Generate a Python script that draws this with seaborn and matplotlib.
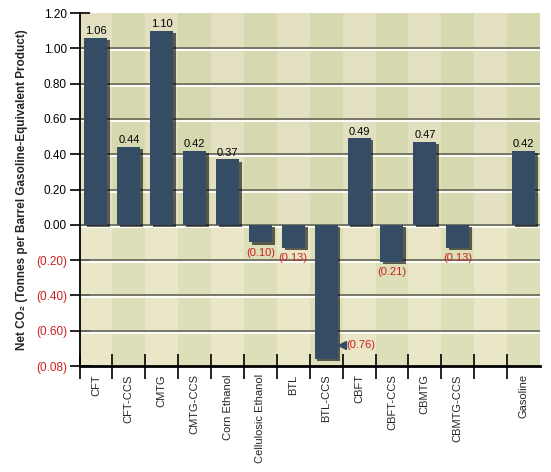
import numpy as np
import pandas as pd
import matplotlib
matplotlib.use("Agg")
import matplotlib.pyplot as plt
import matplotlib.patheffects as pe
import seaborn as sns

categories = ["CFT", "CFT-CCS", "CMTG", "CMTG-CCS", "Corn Ethanol", "Cellulosic Ethanol",
              "BTL", "BTL-CCS", "CBFT", "CBFT-CCS", "CBMTG", "CBMTG-CCS", " ", "Gasoline"]
values = [1.06, 0.44, 1.10, 0.42, 0.37, -0.10, -0.13, -0.76, 0.49, -0.21, 0.47, -0.13, np.nan, 0.42]
value_labels = ["1.06", "0.44", "1.10", "0.42", "0.37", "(0.10)", "(0.13)", "(0.76)",
                "0.49", "(0.21)", "0.47", "(0.13)", "", "0.42"]
ytick_values = [1.20, 1.00, 0.80, 0.60, 0.40, 0.20, 0.00, -0.20, -0.40, -0.60, -0.80]
ytick_labels = ["1.20", "1.00", "0.80", "0.60", "0.40", "0.20", "0.00",
                "(0.20)", "(0.40)", "(0.60)", "(0.08)"]
ylabel = "Net CO\u2082 (Tonnes per Barrel Gasoline-Equivalent Product)"

sns.set_style("white")
plt.rcParams["font.family"] = ["Liberation Sans", "DejaVu Sans"]

BAR = "#344c64"
RED = "#cc2020"
LIGHT = "#e9e7c8"
DARK = "#dcdfb7"

df = pd.DataFrame({"cat": categories, "val": values})

fig = plt.figure(figsize=(5.51, 4.72), dpi=100)
ax = fig.add_axes([79.5 / 551, 1 - 366 / 472, (540 - 79.5) / 551, (366 - 13) / 472])

sns.barplot(data=df, x="cat", y="val", order=categories, color=BAR, saturation=1,
            width=0.7, ax=ax, zorder=3, errorbar=None)
for p in ax.containers[0]:
    p.set_edgecolor("none")
    p.set_path_effects([pe.SimplePatchShadow(offset=(2, -1.5), shadow_rgbFace="black", alpha=0.6),
                        pe.Normal()])

n = len(categories)
for i in range(n):
    ax.axvspan(i - 0.5, i + 0.5, facecolor=LIGHT if i % 2 == 0 else DARK, zorder=0, lw=0)
ax.axhspan(0, 1.2, facecolor="#7a7a50", alpha=0.06, zorder=0.5, lw=0)

ax.set_xlim(-0.5, n - 0.5)
ax.set_ylim(-0.8, 1.2)

# gridlines
for yv in ytick_values[1:-1]:
    ax.axhline(yv, color="#6f6f60", lw=1.3, zorder=1,
               path_effects=[pe.SimpleLineShadow(offset=(0, -1.5), shadow_color="white", alpha=1.0),
                             pe.Normal()])

# value labels
for i, (v, lab) in enumerate(zip(values, value_labels)):
    if np.isnan(v):
        continue
    if v >= 0:
        ax.text(i, v + 0.01, lab, ha="center", va="bottom", fontsize=8, color="black", zorder=5)
    elif v < -0.5:
        ax.plot([i + 0.47], [v + 0.08], marker="<", color=BAR, markersize=6, zorder=5)
        ax.text(i + 0.6, v + 0.08, lab, ha="left", va="center", fontsize=8, color=RED, zorder=5)
    else:
        ax.text(i, v - 0.03, lab, ha="center", va="top", fontsize=8, color=RED, zorder=5)

# y axis ticks
ax.set_yticks(ytick_values)
ax.set_yticklabels(ytick_labels, fontsize=8.5)
for t, v in zip(ax.get_yticklabels(), ytick_values):
    t.set_color(RED if v < 0 else "black")
ax.tick_params(axis="y", direction="inout", length=14, width=1.2, color="black", pad=2, left=True)

# x axis ticks at slot boundaries, labels at centers
ax.set_xticks(np.arange(n) - 0.5, minor=False)
ax.set_xticklabels([])
ax.set_xticks(np.arange(n), minor=True)
ax.set_xticklabels(categories, minor=True, rotation=90, fontsize=8, va="top", ha="center")
ax.tick_params(axis="x", which="major", direction="inout", length=18, width=1.2, color="black", bottom=True)
ax.tick_params(axis="x", which="minor", length=0, pad=6)
ax.set_xlabel("")
ax.set_ylabel(ylabel, fontsize=8.5, fontweight="bold", labelpad=6)

for s in ["top", "right"]:
    ax.spines[s].set_visible(False)
ax.spines["left"].set_linewidth(1.3)
ax.spines["left"].set_color("black")
ax.spines["bottom"].set_linewidth(2)
ax.spines["bottom"].set_color("black")
ax.spines["left"].set_zorder(6)
ax.spines["bottom"].set_zorder(6)

fig.savefig("out.png", dpi=100, facecolor="white")
